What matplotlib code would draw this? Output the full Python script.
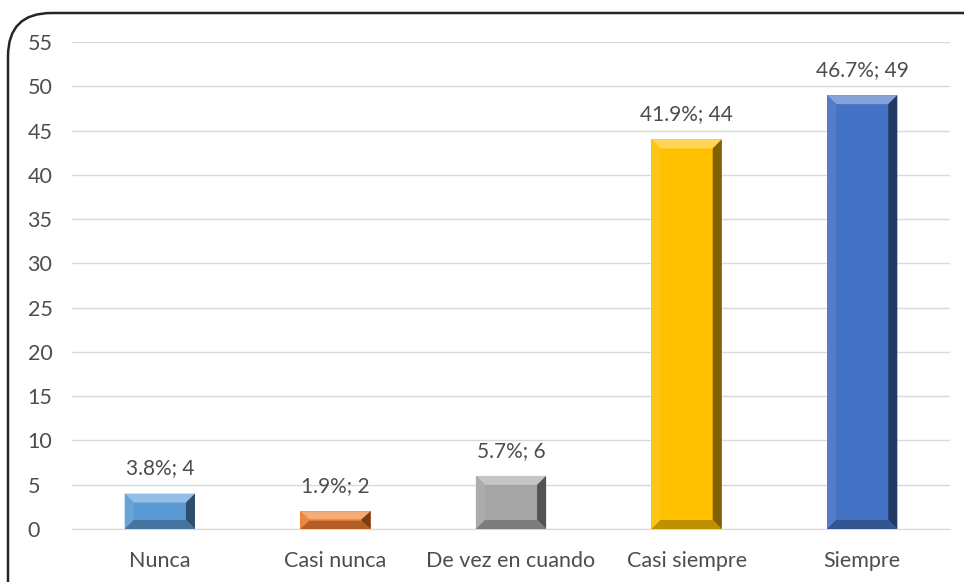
import matplotlib
matplotlib.use("Agg")
import matplotlib.pyplot as plt
from matplotlib.patches import Polygon, FancyBboxPatch
import matplotlib.colors as mcolors
import numpy as np

categories = ["Nunca", "Casi nunca", "De vez en cuando", "Casi siempre", "Siempre"]
counts = [4, 2, 6, 44, 49]
percents = ["3.8%", "1.9%", "5.7%", "41.9%", "46.7%"]
colors = ["#5B9BD5", "#ED7D31", "#A5A5A5", "#FFC000", "#4472C4"]
yticks = list(range(0, 56, 5))

plt.rcParams["font.family"] = ["Lato", "DejaVu Sans"]
W, H = 964, 582
fig = plt.figure(figsize=(W / 100, H / 100), dpi=100)
ax = fig.add_axes([72 / W, 1 - 529 / H, (950 - 72) / W, (529 - 42) / H])

text_color = "#4D4D4D"
x = np.arange(len(categories))
bars = ax.bar(x, counts, width=0.4, color=colors, zorder=3, linewidth=0)
ax.set_xlim(-0.5, len(categories) - 0.5)
ax.set_ylim(0, 55)
ax.set_yticks(yticks)
ax.set_xticks(x)
ax.set_xticklabels(categories)
ax.tick_params(axis="both", length=0, labelsize=15.5, labelcolor=text_color)
ax.tick_params(axis="x", pad=16)
ax.tick_params(axis="y", pad=32)
for lab in ax.get_yticklabels():
    lab.set_horizontalalignment("left")
ax.grid(axis="y", color="#D9D9D9", linewidth=1, zorder=0)
for s in ax.spines.values():
    s.set_visible(False)
ax.spines["bottom"].set_visible(True)
ax.spines["bottom"].set_color("#D9D9D9")

# bevel shading on each bar, sized in pixels
fig.canvas.draw()
to_px = ax.transData
from_px = ax.transData.inverted()
bev = 9
for b, c, pct in zip(bars, colors, percents):
    x0, y0 = b.get_x(), 0
    x1, y1 = b.get_x() + b.get_width(), b.get_height()
    (px0, py0) = to_px.transform((x0, y0))
    (px1, py1) = to_px.transform((x1, y1))
    bv = min(bev, (py1 - py0) / 2.2)
    outer = [(px0, py0), (px1, py0), (px1, py1), (px0, py1)]
    inner = [(px0 + bev, py0 + bv), (px1 - bev, py0 + bv), (px1 - bev, py1 - bv), (px0 + bev, py1 - bv)]
    base = np.array(mcolors.to_rgb(c))
    light = base + (1 - base) * 0.35
    dark = base * 0.5
    mid_dark = base * 0.75
    faces = [
        ([outer[3], outer[2], inner[2], inner[3]], light),      # top
        ([outer[0], outer[3], inner[3], inner[0]], base + (1 - base) * 0.08),  # left
        ([outer[1], outer[2], inner[2], inner[1]], dark),       # right
        ([outer[0], outer[1], inner[1], inner[0]], mid_dark),   # bottom
    ]
    for pts, fc in faces:
        data_pts = from_px.transform(pts)
        ax.add_patch(Polygon(data_pts, closed=True, facecolor=np.clip(fc, 0, 1),
                             edgecolor="none", zorder=4))
    ax.annotate(f"{pct}; {int(b.get_height())}",
                (b.get_x() + b.get_width() / 2, b.get_height()),
                xytext=(0, 11), textcoords="offset points", ha="center", va="bottom",
                fontsize=15, color=text_color)

border = FancyBboxPatch((8 / W, -0.1), 1.2, 1 - 13 / H + 0.1,
                        boxstyle="round,pad=0,rounding_size=0.045",
                        transform=fig.transFigure, facecolor="none",
                        edgecolor="#262626", linewidth=1.8, mutation_aspect=W / H)
fig.patches.append(border)

fig.savefig("out.png", dpi=100)
